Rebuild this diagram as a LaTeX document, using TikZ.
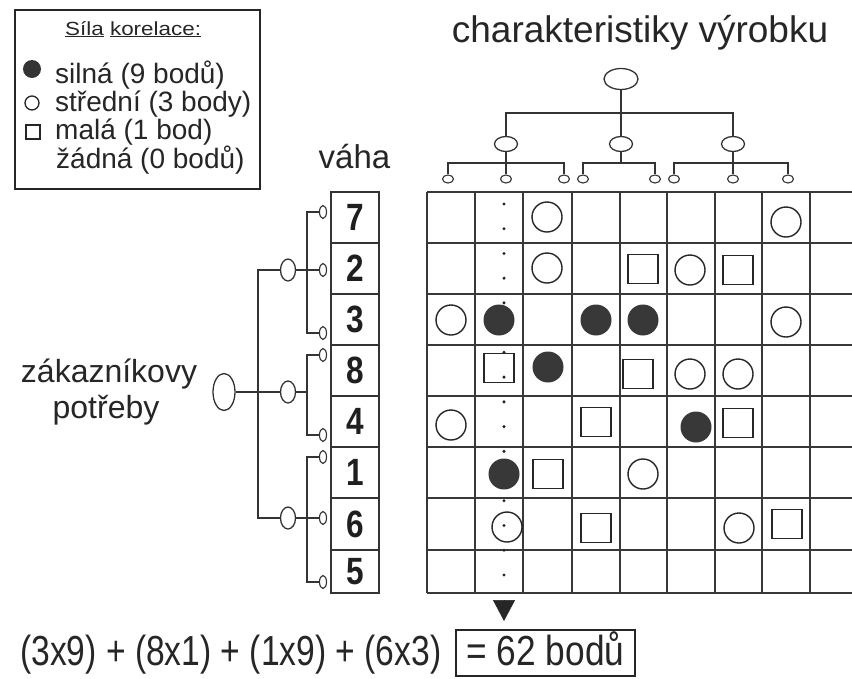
\documentclass[tikz,border=0pt]{standalone}
\usepackage{fontspec}
\setmainfont{Liberation Sans}
\newfontfamily\narrowfont[FakeStretch=0.8]{Liberation Sans}
\newfontfamily\boxfont[FakeStretch=0.84]{Liberation Sans}
\newfontfamily\widefont[FakeStretch=1.18]{Liberation Sans}
\newfontfamily\numfont[FakeStretch=0.83]{Liberation Sans}
\usetikzlibrary{shapes.geometric,arrows.meta}
\newcommand\fsz[1]{\fontsize{#1}{#1}\selectfont}

\begin{document}
\begin{tikzpicture}[x=1pt,y=-1pt,
  txt/.style={inner sep=0pt, text=black!85},
  wire/.style={draw=black!80, line width=1.3pt},
  knot/.style={ellipse, draw=black!80, line width=1.3pt, inner sep=0pt, fill=white},
  bigknot/.style={knot, minimum width=34pt, minimum height=21pt},
  midknot/.style={knot, minimum width=23pt, minimum height=15pt},
  leafknot/.style={knot, minimum width=11pt, minimum height=8pt, line width=1.1pt},
  vbigknot/.style={knot, minimum width=22pt, minimum height=37pt},
  vmidknot/.style={knot, minimum width=15pt, minimum height=22pt},
  vleafknot/.style={knot, minimum width=7pt, minimum height=13pt, line width=1.1pt},
  wbox/.style={draw=black!80, line width=1.5pt, rectangle, minimum width=48pt,
    inner sep=0pt, text=black!88, font=\numfont\bfseries\fsz{38}},
  grid/.style={draw=black!78, line width=1.6pt},
  strong/.style={circle, fill=black!78, minimum size=31pt, inner sep=0pt},
  medium/.style={circle, draw=black!85, line width=1.4pt, minimum size=30pt, inner sep=0pt},
  weak/.style={rectangle, draw=black!85, line width=1.4pt, minimum width=30pt, minimum height=29pt, inner sep=0pt},
]
\useasboundingbox (0,0) rectangle (852,678);
\fill[white] (0,0) rectangle (852,678);

% ---------- legend ----------
\node[draw=black!85, line width=2.4pt, minimum width=245pt, minimum height=179pt,
  anchor=north west, inner sep=0pt] (legend) at (14,9) {};
\node[txt, anchor=base west, font=\widefont\fsz{19}] (legtitle) at (65,35) {\underline{Síla} \underline{korelace:}};
\node[txt, anchor=base west, font=\fsz{28}] (leg1) at (55,83) {silná (9 bodů)};
\node[txt, anchor=base west, font=\fsz{28}] (leg2) at (55,111) {střední (3 body)};
\node[txt, anchor=base west, font=\fsz{28}] (leg3) at (55,139) {malá (1 bod)};
\node[txt, anchor=base west, font=\fsz{28}] (leg4) at (56,168) {žádná (0 bodů)};
\node[circle, fill=black!80, minimum size=18pt, inner sep=0pt] (legS) at (32,69) {};
\node[circle, draw=black!85, line width=1.3pt, minimum size=14pt, inner sep=0pt] (legM) at (32,103) {};
\node[rectangle, draw=black!85, line width=1.3pt, minimum size=14pt, inner sep=0pt] (legW) at (33,132) {};

% ---------- product characteristics tree ----------
\node[txt, anchor=base, font=\fsz{37}] (title) at (640,42) {charakteristiky výrobku};
\node[bigknot] (C0) at (621,79) {};
\node[midknot] (C1) at (506,144) {};
\node[midknot] (C2) at (621,144) {};
\node[midknot] (C3) at (733,144) {};
\coordinate (cj) at (621,113);
\draw[wire] (C1.north) |- (cj) -| (C3.north);
\draw[wire] (C0) -- (C2);
\foreach \n/\xx in {S1/448,S2/506,S3/564,S4/583,S5/655,S6/674,S7/733,S8/788}
  \node[leafknot] (\n) at (\xx,179) {};
\coordinate (g1) at (506,163);
\coordinate (g2) at (621,163);
\coordinate (g3) at (733,163);
\draw[wire] (S1.north) |- (g1) -| (S3.north);
\draw[wire] (C1) -- (S2);
\draw[wire] (S4.north) |- (g2) -| (S5.north);
\draw[wire] (C2) -- (g2);
\draw[wire] (S6.north) |- (g3) -| (S8.north);
\draw[wire] (C3) -- (S7);

% ---------- customer needs tree ----------
\node[txt, anchor=base, font=\fsz{32}] (need1) at (109,382) {zákazníkovy};
\node[txt, anchor=base, font=\fsz{32}] (need2) at (106,418) {potřeby};
\node[vbigknot] (R) at (224,392) {};
\node[vmidknot] (M1) at (288,270) {};
\node[vmidknot] (M2) at (288,392) {};
\node[vmidknot] (M3) at (288,518) {};
\coordinate (lj) at (258,392);
\draw[wire] (M1.west) -| (lj) |- (M3.west);
\draw[wire] (R) -- (M2);
\foreach \n/\yy in {L7/212,L2/270,L3/333,L8/355,L4/435,L1/457,L6/518,L5/582}
  \node[vleafknot] (\n) at (323,\yy) {};
\coordinate (a1) at (307,270);
\coordinate (a2) at (307,392);
\coordinate (a3) at (307,518);
\draw[wire] (L7.west) -| (a1) |- (L3.west);
\draw[wire] (M1) -- (L2);
\draw[wire] (L8.west) -| (a2) |- (L4.west);
\draw[wire] (M2) -- (a2);
\draw[wire] (L1.west) -| (a3) |- (L5.west);
\draw[wire] (M3) -- (L6);

% ---------- weights ----------
\node[txt, anchor=base, font=\fsz{33}] (weight) at (354.5,168) {váha};
\node[wbox, minimum height=51pt] (w1) at (355,217.5) {7};
\node[wbox, minimum height=51pt] (w2) at (355,268.5) {2};
\node[wbox, minimum height=51pt] (w3) at (355,319.5) {3};
\node[wbox, minimum height=51pt] (w4) at (355,370.5) {8};
\node[wbox, minimum height=51pt] (w5) at (355,421.5) {4};
\node[wbox, minimum height=51pt] (w6) at (355,472.5) {1};
\node[wbox, minimum height=52pt] (w7) at (355,524) {6};
\node[wbox, minimum height=43pt] (w8) at (355,571.5) {5};

% ---------- relationship matrix ----------
\foreach \xx in {427,475,523,572,620,667,715,762,810}
  \draw[grid] (\xx,192) -- (\xx,593);
\foreach \yy in {192,243,294,345,396,447,498,550,593}
  \draw[grid] (427,\yy) -- (860,\yy);

% column being evaluated
\foreach \k in {0,...,15}
  \fill[black!85] (504,{204+24.73*\k}) circle[radius=1.7pt];

% row 7
\node[medium] (m11) at (547,217) {};
\node[medium] (m18) at (786,222) {};
% row 2
\node[medium] (m23) at (547,268) {};
\node[weak]   (m25) at (643,269) {};
\node[medium] (m26) at (690,270) {};
\node[weak]   (m27) at (738,270) {};
% row 3
\node[medium] (m31) at (451,320) {};
\node[strong] (m32) at (499,320) {};
\node[strong] (m34) at (596,320) {};
\node[strong] (m35) at (643,320) {};
\node[medium] (m38) at (786,322) {};
% row 8
\node[weak]   (m42) at (499,368) {};
\node[strong] (m43) at (548,367) {};
\node[weak]   (m45) at (638,374) {};
\node[medium] (m46) at (690,374) {};
\node[medium] (m47) at (738,374) {};
% row 4
\node[medium] (m51) at (451,425) {};
\node[weak]   (m54) at (596,422) {};
\node[strong] (m56) at (696,427) {};
\node[weak]   (m57) at (738,423) {};
% row 1
\node[strong] (m62) at (504,474) {};
\node[weak]   (m63) at (548,474) {};
\node[medium] (m65) at (643,474) {};
% row 6
\node[medium] (m72) at (507,527) {};
\node[weak]   (m74) at (596,528) {};
\node[medium] (m77) at (739,528) {};
\node[weak]   (m78) at (787,524) {};

% ---------- result ----------
\node[txt, anchor=base west, font=\narrowfont\fsz{42}] (sum) at (20,665)
  {(3x9) + (8x1) + (1x9) + (6x3)};
\node[draw=black!85, line width=2pt, minimum width=179pt, minimum height=46pt,
  inner sep=0pt, text height=31pt, text depth=7pt, text=black!85,
  font=\boxfont\fsz{42}] (total) at (545.5,653) {= 62 bodů};
\coordinate (colfoot) at (504,600);
\draw[draw=black!85, fill=black!85, line width=0.6pt,
  -{Triangle[width=22pt,length=21pt]}, shorten >=8pt]
  (colfoot) -- (colfoot |- total.north);
\end{tikzpicture}
\end{document}
